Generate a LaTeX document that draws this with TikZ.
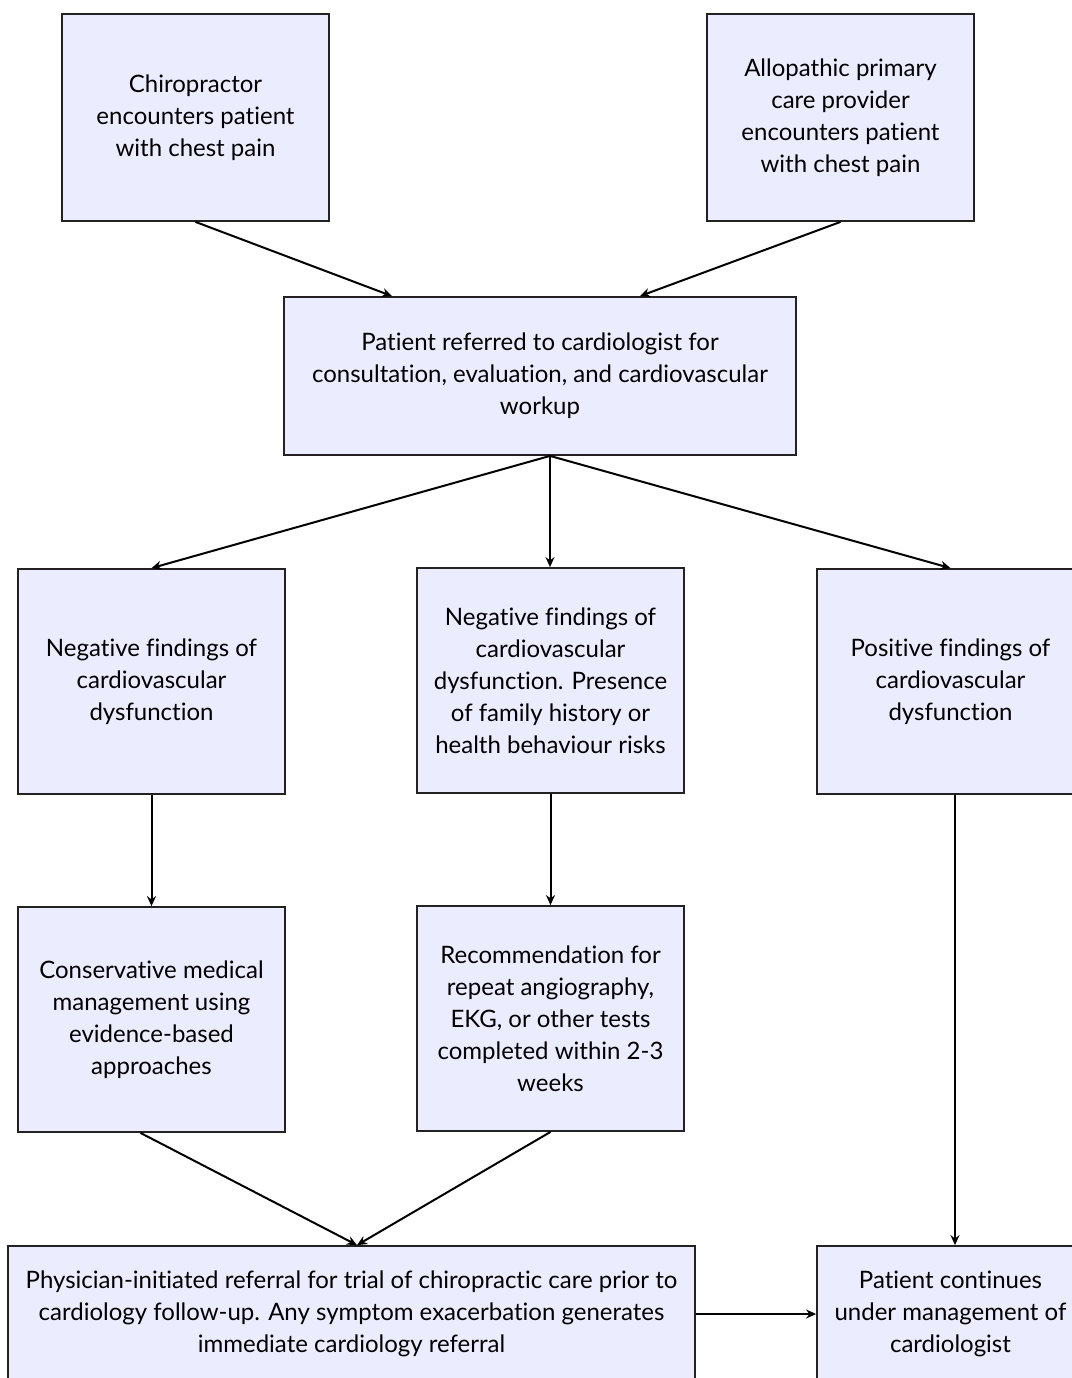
\documentclass[tikz,border=0pt]{standalone}
\usepackage{fontspec}
\setmainfont{Lato}[Ligatures=NoCommon]
\usetikzlibrary{ % tikz packages
    positioning,calc,
    arrows.meta
}
\definecolor{boxfill}{HTML}{ECECFF}
\definecolor{boxline}{HTML}{222222}
\tikzset{flowbox/.style={
    draw=boxline,
    fill=boxfill,
    line width=0.9pt,
    align=center,
    minimum width=133.5pt,
    minimum height=112.5pt,
    inner sep=0pt,
    font=\fontsize{12}{16}\selectfont
}}
\tikzset{>={Stealth[length=5pt,width=4.5pt]}}

\begin{document}
\begin{tikzpicture}[x=0.5pt,y=-0.5pt,node distance=169pt,on grid,auto]
        \useasboundingbox (0,0) rectangle (1072,1378);

        \node[flowbox,minimum height=103.5pt] (chiro) at (195.5,117.5)
            {Chiropractor\\encounters patient\\with chest pain};
        \node[flowbox,minimum height=103.5pt] (allo) at (840.5,117.5)
            {Allopathic primary\\care provider\\encounters patient\\with chest pain};

        \node[flowbox,minimum width=256pt,minimum height=79pt] (refer) at (540,376)
            {Patient referred to cardiologist for\\consultation, evaluation, and cardiovascular\\workup};

        \node[flowbox] (negl) at (151.5,681.5)
            {Negative findings of\\cardiovascular\\dysfunction};
        \node[flowbox] (negm) at (550.5,680.5)
            {Negative findings of\\cardiovascular\\dysfunction. Presence\\of family history or\\health behaviour risks};
        \node[flowbox] (pos) at (950.5,681.5)
            {Positive findings of\\cardiovascular\\dysfunction};

        \node[flowbox] (cons) [below=of negl] {Conservative medical\\management using\\evidence-based\\approaches};
        \node[flowbox] (recom) [below=of negm] {Recommendation for\\repeat angiography,\\EKG, or other tests\\completed within 2-3\\weeks};

        \node[flowbox,minimum width=343.5pt,minimum height=68pt] (trial) at (351.5,1314)
            {Physician-initiated referral for trial of chiropractic care prior to\\cardiology follow-up. Any symptom exacerbation generates\\immediate cardiology referral};
        \node[flowbox,minimum height=68pt] (cont) at (950.5,1314)
            {Patient continues\\under management of\\cardiologist};

        \path[->,line width=1pt]
            (chiro.south)
                edge ($(refer.north)+(-148,0)$)
            (allo.south)
                edge ($(refer.north)+(100,0)$)
            ($(refer.south)+(10,0)$)
                edge (negl.north)
                edge ($(negm.north)+(-0.5,0)$)
                edge (pos.north)
            (negl.south)
                edge (cons.north)
            (negm.south)
                edge (recom.north)
            ($(cons.south)+(-11,0)$)
                edge ($(trial.north)+(5.5,0)$)
            (recom.south)
                edge ($(trial.north)+(5.5,0)$)
            ($(pos.south)+(4.5,0)$)
                edge ($(cont.north)+(4.5,0)$)
            (trial.east)
                edge (cont.west);
    \end{tikzpicture}
\end{document}
